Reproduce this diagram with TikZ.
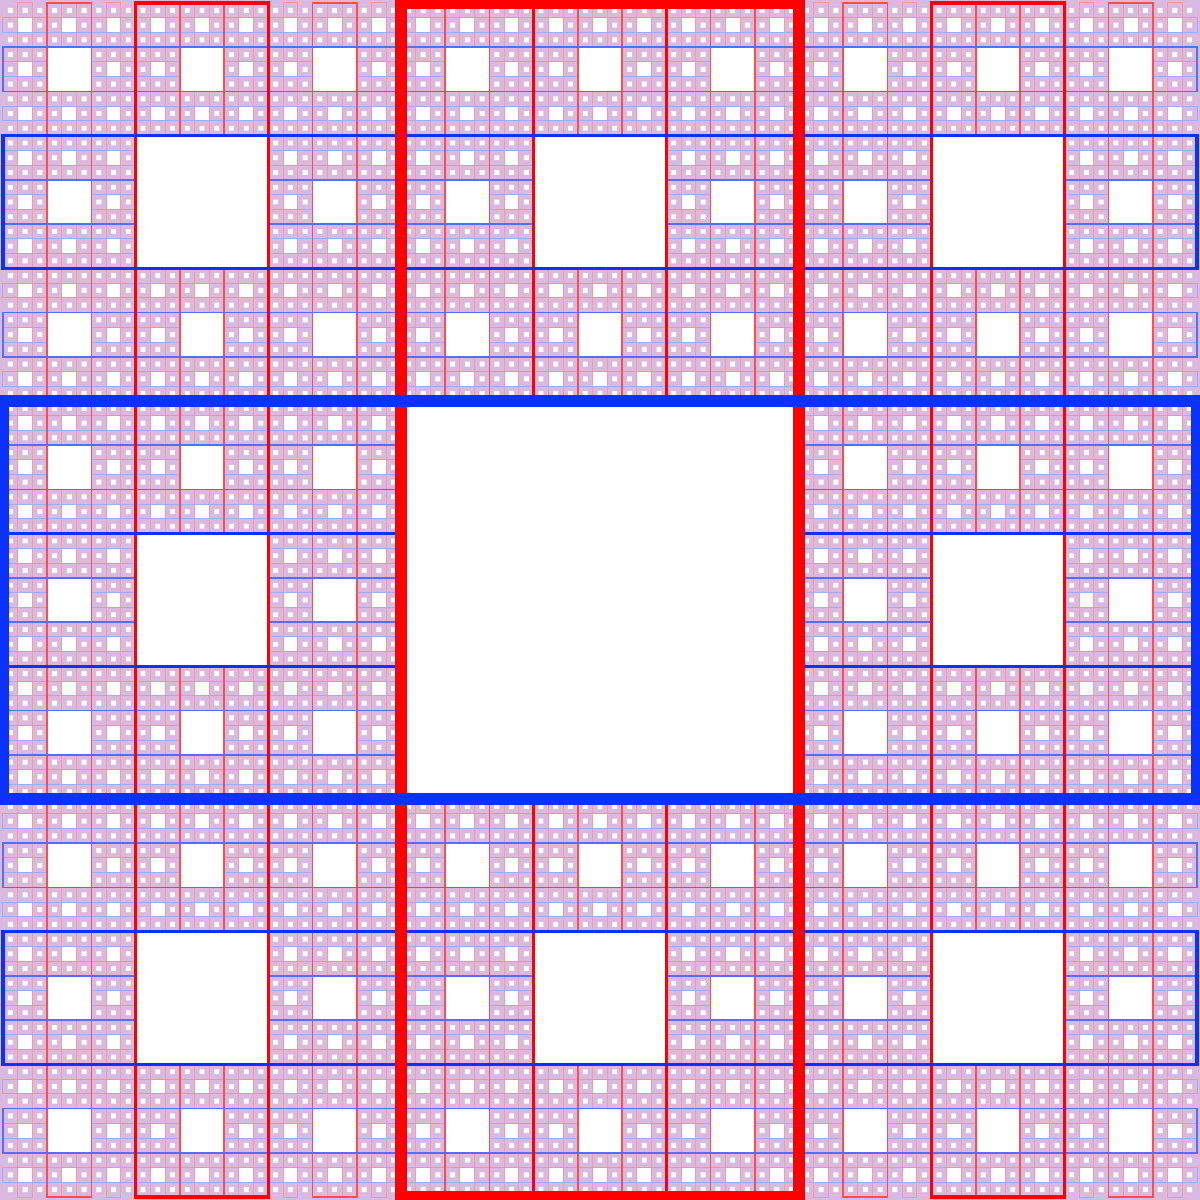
\documentclass[tikz,border=0pt]{standalone}
\usepackage{tikz}
\definecolor{CarpetRed}{HTML}{FF0000}
\definecolor{CarpetBlue}{HTML}{0A32FF}
\definecolor{CarpetFill}{HTML}{D9B9E0}
\newcommand{\carpetcell}[4]{% x, y, size, levels left
  \pgfmathsetmacro{\third}{#3/3}
  \ifnum#4>1
    \foreach \col/\row in {0/0,1/0,2/0,0/1,2/1,0/2,1/2,2/2}{
      \pgfmathsetmacro{\cx}{#1+\col*\third}
      \pgfmathsetmacro{\cy}{#2+\row*\third}
      \edef\nextcell{\noexpand\carpetcell{\cx}{\cy}{\third}{\the\numexpr#4-1\relax}}
      \nextcell
    }
  \else
    % smallest holes, one path per cell
    \pgfmathsetmacro{\ninth}{\third/3}
    \fill[white] \foreach \col/\row in {0/0,1/0,2/0,0/1,2/1,0/2,1/2,2/2}{
      ({#1+\col*\third+\ninth},{#2+\row*\third+\ninth}) rectangle ++(\ninth,\ninth)};
  \fi
  \ifcase#4\or
    \def\lw{0.01}\def\tint{40}\or
    \def\lw{0.016}\def\tint{70}\or
    \def\lw{0.035}\def\tint{100}\or
    \def\lw{0.12}\def\tint{100}\fi
  \fill[white] ({#1+\third},{#2+\third}) rectangle ++(\third,\third);
  \draw[CarpetRed!\tint, line width=\lw cm] ({#1+\third},#2) rectangle ++(\third,#3);
  \draw[CarpetBlue!\tint, line width=\lw cm] (#1,{#2+\third}) rectangle ++(#3,\third);
}

\begin{document}
\begin{tikzpicture}
  \useasboundingbox (-0.03,-0.03) rectangle (12.03,12.03);
  \fill[CarpetFill] (-0.03,-0.03) rectangle (12.03,12.03);
  \carpetcell{0}{0}{12}{4}
\end{tikzpicture}
\end{document}
